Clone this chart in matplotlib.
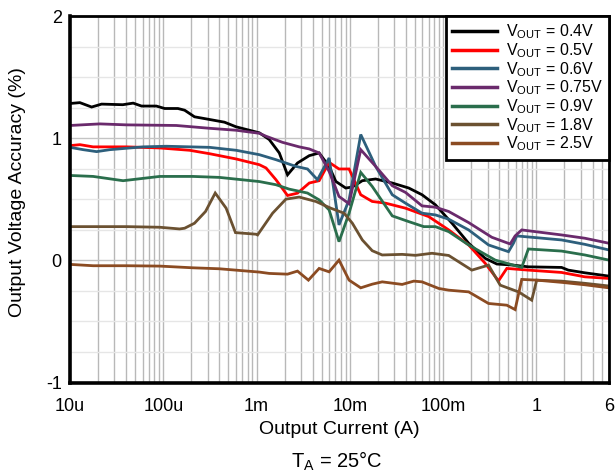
import matplotlib
matplotlib.use("Agg")
import matplotlib.pyplot as plt
from matplotlib.ticker import FixedLocator, LogLocator, NullFormatter, MultipleLocator
import numpy as np

plt.rcParams['font.family'] = ['Liberation Sans', 'DejaVu Sans']
plt.rcParams['mathtext.fontset'] = 'custom'
plt.rcParams['mathtext.rm'] = 'Liberation Sans'
plt.rcParams['mathtext.it'] = 'Liberation Sans'

# data: log10(current in A), accuracy (%)
v04_logi = [-5.0, -4.894, -4.768, -4.661, -4.434, -4.323, -4.233, -4.074, -3.985, -3.843, -3.771, -3.665, -3.540,
            -3.344, -3.219, -2.970, -2.864, -2.756, -2.668, -2.561, -2.435, -2.329, -2.222, -2.150, -2.044, -1.973,
            -1.866, -1.723, -1.545, -1.368, -1.226, -1.083, -0.905, -0.726, -0.548, -0.424, -0.263, -0.086, 0.270,
            0.342, 0.520, 0.778]
v04_acc = [1.284, 1.291, 1.255, 1.279, 1.274, 1.287, 1.263, 1.263, 1.243, 1.243, 1.229, 1.175, 1.158,
           1.131, 1.093, 1.044, 0.989, 0.879, 0.700, 0.797, 0.857, 0.879, 0.769, 0.646, 0.592, 0.600,
           0.652, 0.666, 0.633, 0.592, 0.537, 0.455, 0.304, 0.140, 0.016, -0.030, -0.038, -0.053, -0.058,
           -0.080, -0.102, -0.129]

v05_logi = [-5.0, -4.894, -4.752, -4.394, -4.038, -3.718, -3.504, -3.219, -2.970, -2.898, -2.792, -2.668, -2.561,
            -2.435, -2.329, -2.222, -2.116, -2.008, -1.883, -1.760, -1.616, -1.403, -1.154, -0.940, -0.726, -0.548,
            -0.406, -0.317, -0.086, 0.270, 0.520, 0.778]
v05_acc = [0.939, 0.947, 0.929, 0.929, 0.920, 0.901, 0.873, 0.830, 0.783, 0.756, 0.660, 0.531, 0.550,
           0.633, 0.652, 0.802, 0.748, 0.748, 0.537, 0.482, 0.468, 0.427, 0.358, 0.249, 0.126, -0.025,
           -0.168, -0.066, -0.080, -0.099, -0.135, -0.148]

v06_logi = [-5.0, -4.858, -4.715, -4.573, -4.217, -3.967, -3.504, -3.219, -2.970, -2.792, -2.578, -2.454, -2.347,
            -2.222, -2.116, -2.008, -1.883, -1.723, -1.545, -1.403, -1.226, -1.083, -0.940, -0.726, -0.513,
            -0.299, -0.246, -0.211, -0.050, 0.270, 0.520, 0.778]
v06_acc = [0.925, 0.906, 0.890, 0.906, 0.929, 0.934, 0.925, 0.901, 0.865, 0.824, 0.769, 0.748, 0.660,
           0.838, 0.290, 0.495, 1.030, 0.769, 0.537, 0.468, 0.386, 0.372, 0.337, 0.249, 0.126,
           0.071, 0.140, 0.200, 0.189, 0.167, 0.131, 0.085]

v075_logi = [-5.0, -4.680, -4.394, -3.860, -3.504, -3.219, -2.970, -2.898, -2.722, -2.543, -2.435, -2.329, -2.222,
             -2.116, -2.008, -1.883, -1.723, -1.545, -1.403, -1.226, -1.083, -0.940, -0.726, -0.478, -0.281,
             -0.228, -0.157, 0.270, 0.520, 0.778]
v075_acc = [1.104, 1.117, 1.109, 1.104, 1.081, 1.065, 1.040, 1.016, 0.966, 0.929, 0.912, 0.879, 0.728,
            0.523, 0.463, 0.906, 0.769, 0.611, 0.556, 0.446, 0.435, 0.400, 0.309, 0.189, 0.134,
            0.200, 0.249, 0.208, 0.181, 0.140]

v09_logi = [-5.0, -4.752, -4.431, -4.038, -3.683, -3.398, -2.970, -2.792, -2.650, -2.454, -2.329, -2.222, -2.116,
            -2.008, -1.883, -1.760, -1.545, -1.368, -1.207, -1.083, -0.940, -0.726, -0.441, -0.157, -0.086,
            0.270, 0.520, 0.778]
v09_acc = [0.695, 0.687, 0.652, 0.687, 0.687, 0.679, 0.645, 0.619, 0.583, 0.551, 0.495, 0.413, 0.153,
           0.386, 0.720, 0.605, 0.364, 0.317, 0.276, 0.276, 0.235, 0.126, 0.002, -0.058, 0.093,
           0.076, 0.044, 0.002]

v18_logi = [-5.0, -4.752, -4.394, -4.038, -3.825, -3.771, -3.665, -3.547, -3.443, -3.326, -3.226, -3.006, -2.989,
            -2.828, -2.685, -2.543, -2.364, -2.204, -2.062, -1.973, -1.866, -1.760, -1.653, -1.439, -1.296,
            -1.119, -0.940, -0.692, -0.513, -0.388, -0.192, -0.050, 0.003, 0.270, 0.520, 0.778]
v18_acc = [0.276, 0.276, 0.276, 0.271, 0.257, 0.263, 0.304, 0.400, 0.551, 0.427, 0.227, 0.214, 0.208,
           0.386, 0.501, 0.518, 0.482, 0.427, 0.386, 0.304, 0.167, 0.079, 0.044, 0.049, 0.041,
           0.058, 0.040, -0.080, -0.039, -0.203, -0.258, -0.326, -0.162, -0.170, -0.188, -0.210]

v25_logi = [-5.0, -4.752, -4.394, -4.038, -3.683, -3.398, -2.970, -2.864, -2.668, -2.561, -2.444, -2.329, -2.222,
            -2.116, -2.008, -1.883, -1.760, -1.653, -1.439, -1.314, -1.226, -1.047, -0.940, -0.726, -0.513,
            -0.317, -0.228, -0.157, 0.003, 0.270, 0.520, 0.778]
v25_acc = [-0.033, -0.044, -0.044, -0.047, -0.061, -0.069, -0.096, -0.107, -0.113, -0.088, -0.162, -0.066, -0.094,
           0.002, -0.162, -0.225, -0.195, -0.176, -0.197, -0.170, -0.176, -0.230, -0.244, -0.258, -0.353,
           -0.367, -0.403, -0.156, -0.162, -0.180, -0.200, -0.225]

series = [
    (v04_logi, v04_acc, '#000000', r'V$_{\mathrm{OUT}}$ = 0.4V'),
    (v05_logi, v05_acc, '#ff0000', r'V$_{\mathrm{OUT}}$ = 0.5V'),
    (v06_logi, v06_acc, '#2d5f7c', r'V$_{\mathrm{OUT}}$ = 0.6V'),
    (v075_logi, v075_acc, '#6a2a6c', r'V$_{\mathrm{OUT}}$ = 0.75V'),
    (v09_logi, v09_acc, '#2a6e4c', r'V$_{\mathrm{OUT}}$ = 0.9V'),
    (v18_logi, v18_acc, '#6b5131', r'V$_{\mathrm{OUT}}$ = 1.8V'),
    (v25_logi, v25_acc, '#8b4b22', r'V$_{\mathrm{OUT}}$ = 2.5V'),
]

xticks = [1e-5, 1e-4, 1e-3, 1e-2, 1e-1, 1, 6]
xticklabels = ['10u', '100u', '1m', '10m', '100m', '1', '6']
yticks = [-1, 0, 1, 2]
yticklabels = ['-1', '0', '1', '2']

fig = plt.figure(figsize=(6.15, 4.74), dpi=100)
ax = fig.add_axes([0.1138, 0.193, 0.8764, 0.7732])

for logi, acc, col, lab in series:
    ax.plot(10 ** np.array(logi), acc, color=col, lw=2.0, label=lab, solid_joinstyle='miter')

ax.set_xscale('log')
ax.set_xlim(1e-5, 6)
ax.set_ylim(-1, 2)
ax.xaxis.set_major_locator(FixedLocator(xticks))
ax.set_xticklabels(xticklabels)
ax.xaxis.set_minor_locator(LogLocator(base=10, subs=np.arange(2, 10), numticks=20))
ax.xaxis.set_minor_formatter(NullFormatter())
ax.set_yticks(yticks)
ax.set_yticklabels(yticklabels)
ax.yaxis.set_minor_locator(MultipleLocator(0.25))

ax.grid(which='major', axis='x', color='#b8b8b8', lw=1.0)
ax.grid(which='minor', axis='x', color='#b8b8b8', lw=1.0)
ax.grid(which='major', axis='y', color='#c4c4c4', lw=1.0)
ax.grid(which='minor', axis='y', color='#e6e6e6', lw=1.0)
ax.set_axisbelow(True)

ax.tick_params(which='both', length=0, labelsize=13, colors='black')
ax.tick_params(axis='x', pad=11)
ax.tick_params(axis='y', pad=6)

for side in ['left', 'bottom']:
    ax.spines[side].set_linewidth(2.6)
for side in ['top', 'right']:
    ax.spines[side].set_linewidth(2.0)

ax.set_xlabel('Output Current (A)', fontsize=14, va='top')
ax.xaxis.set_label_coords(0.5, -0.105)
ax.set_ylabel('Output Voltage Accuracy (%)', fontsize=14)
ax.yaxis.set_label_coords(-0.081, 0.52)

leg = ax.legend(loc='upper right', fontsize=11.5, frameon=True, fancybox=False,
                handlelength=2.8, handletextpad=0.55, labelspacing=0.0,
                borderpad=0.4, borderaxespad=0.0)
leg.get_frame().set_edgecolor('black')
leg.get_frame().set_linewidth(2.0)
leg.get_frame().set_alpha(1)
for h in leg.get_lines():
    h.set_linewidth(2.5)

fig.text(0.548, 0.0135, r'T$_{\mathrm{A}}$ = 25°C', ha='center', va='baseline', fontsize=14.5)

fig.savefig('out.png', dpi=100)
